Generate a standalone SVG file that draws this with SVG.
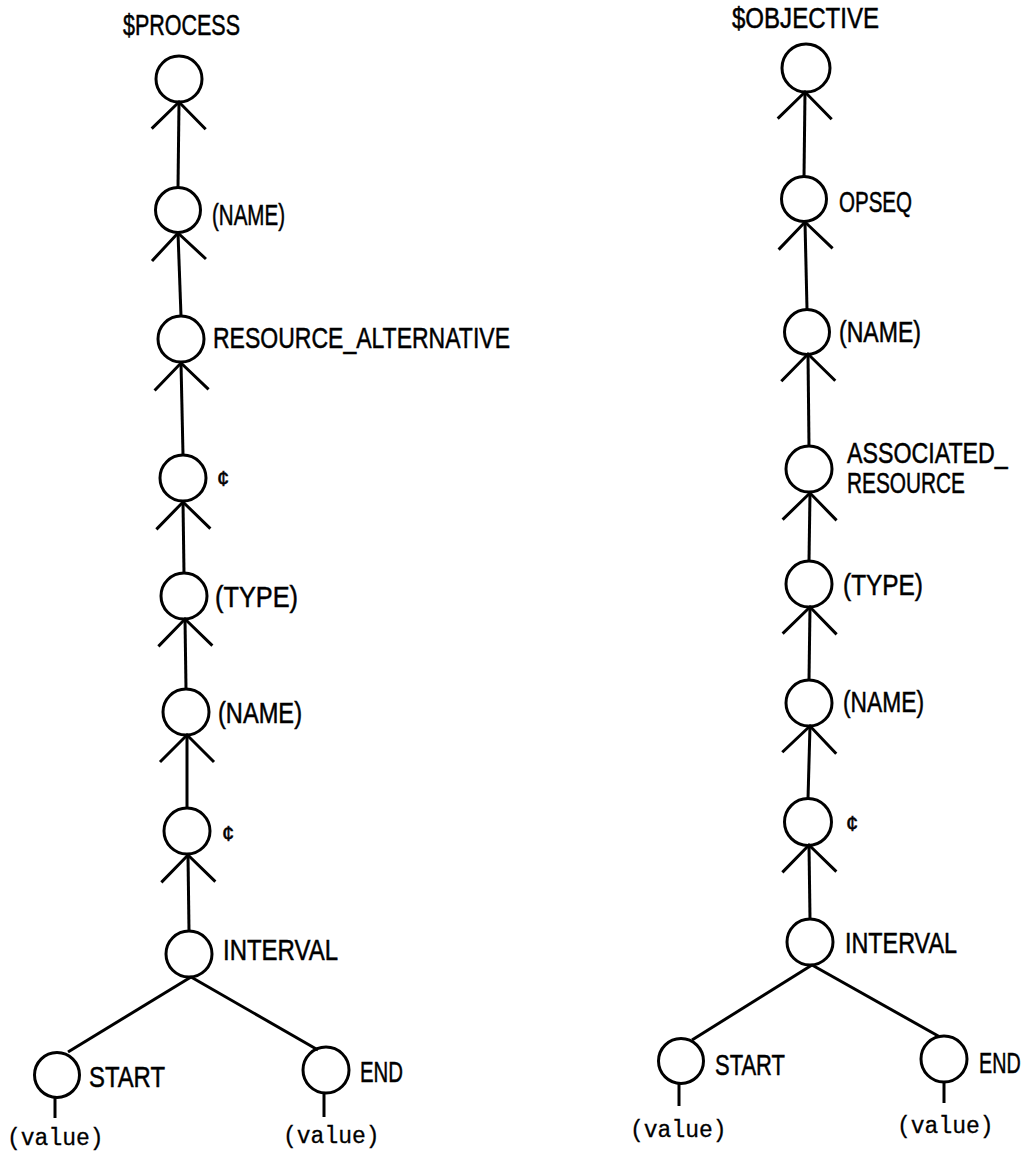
<svg xmlns="http://www.w3.org/2000/svg" width="1028" height="1154" viewBox="0 0 1028 1154">
<style>
.n{fill:none;stroke:#000;stroke-width:3}
.c line{stroke:#000;stroke-width:3;fill:none}
.a{marker-end:url(#v)}
.t{font-family:"Liberation Sans",Arial,sans-serif;font-size:29px;fill:#000;stroke:#000;stroke-width:0.5}
.s{font-family:"Liberation Sans",Arial,sans-serif;font-size:22px;fill:#000;stroke:#000;stroke-width:0.5}
.v{font-family:"Liberation Mono","Courier New",monospace;font-size:23px;fill:#000;stroke:#000;stroke-width:0.3}
</style>
<defs>
<marker id="v" markerUnits="userSpaceOnUse" viewBox="-30 -30 32 60" refX="0" refY="0" markerWidth="32" markerHeight="60" orient="auto" overflow="visible">
<path d="M-27,-27 L0,0 L-27,27" fill="none" stroke="#000" stroke-width="3"/>
</marker>
</defs>
<rect width="1028" height="1154" fill="#fff"/>
<g id="connectors" class="c">
<line class="a" x1="178" y1="188" x2="179" y2="102"/>
<line class="a" x1="181" y1="316" x2="178" y2="233"/>
<line class="a" x1="183" y1="455" x2="181" y2="363"/>
<line class="a" x1="184" y1="573" x2="183" y2="502"/>
<line class="a" x1="186" y1="689" x2="185" y2="619"/>
<line class="a" x1="187" y1="808" x2="187" y2="735"/>
<line class="a" x1="189" y1="931" x2="188" y2="855"/>
<line x1="191" y1="977" x2="68" y2="1052"/>
<line x1="191" y1="977" x2="318" y2="1050"/>
<line x1="55" y1="1097" x2="55" y2="1118"/>
<line x1="324" y1="1093" x2="324" y2="1117"/>
<line class="a" x1="804" y1="177" x2="805" y2="92"/>
<line class="a" x1="807" y1="309" x2="805" y2="222"/>
<line class="a" x1="809" y1="447" x2="808" y2="354"/>
<line class="a" x1="809" y1="561" x2="810" y2="493"/>
<line class="a" x1="809" y1="680" x2="810" y2="607"/>
<line class="a" x1="808" y1="799" x2="810" y2="726"/>
<line class="a" x1="810" y1="919" x2="809" y2="845"/>
<line x1="812" y1="965" x2="692" y2="1040"/>
<line x1="812" y1="965" x2="940" y2="1037"/>
<line x1="679" y1="1084" x2="679" y2="1106"/>
<line x1="944" y1="1082" x2="944" y2="1103"/>
</g>
<g id="process-root"><text class="t" x="123" y="35" textLength="117" lengthAdjust="spacingAndGlyphs">$PROCESS</text><circle class="n" cx="179" cy="79" r="23"/></g>
<g id="p-name1"><circle class="n" cx="178" cy="210" r="22.5"/><text class="t" x="212" y="225" textLength="73" lengthAdjust="spacingAndGlyphs">(NAME)</text></g>
<g id="p-resalt"><circle class="n" cx="181" cy="339" r="23"/><text class="t" x="213" y="348" textLength="297" lengthAdjust="spacingAndGlyphs">RESOURCE_ALTERNATIVE</text></g>
<g id="p-cent1"><circle class="n" cx="183" cy="478" r="23"/><text class="s" x="217" y="486">¢</text></g>
<g id="p-type"><circle class="n" cx="184" cy="596" r="23"/><text class="t" x="215" y="607" textLength="83" lengthAdjust="spacingAndGlyphs">(TYPE)</text></g>
<g id="p-name2"><circle class="n" cx="186" cy="712" r="23"/><text class="t" x="218" y="723" textLength="84" lengthAdjust="spacingAndGlyphs">(NAME)</text></g>
<g id="p-cent2"><circle class="n" cx="187" cy="831" r="23"/><text class="s" x="222" y="841">¢</text></g>
<g id="p-interval"><circle class="n" cx="189" cy="954" r="23"/><text class="t" x="223" y="960" textLength="115" lengthAdjust="spacingAndGlyphs">INTERVAL</text></g>
<g id="p-start"><circle class="n" cx="57" cy="1075" r="22.5"/><text class="t" x="89" y="1087" textLength="76" lengthAdjust="spacingAndGlyphs">START</text><text class="v" x="7" y="1145">(value)</text></g>
<g id="p-end"><circle class="n" cx="326" cy="1070" r="23"/><text class="t" x="360" y="1082" textLength="43" lengthAdjust="spacingAndGlyphs">END</text><text class="v" x="283" y="1143">(value)</text></g>
<g id="objective-root"><text class="t" x="732" y="28" textLength="147" lengthAdjust="spacingAndGlyphs">$OBJECTIVE</text><circle class="n" cx="806" cy="68" r="24"/></g>
<g id="o-opseq"><circle class="n" cx="804" cy="199" r="22.5"/><text class="t" x="839" y="212" textLength="73" lengthAdjust="spacingAndGlyphs">OPSEQ</text></g>
<g id="o-name1"><circle class="n" cx="807" cy="332" r="22.5"/><text class="t" x="839" y="342" textLength="82" lengthAdjust="spacingAndGlyphs">(NAME)</text></g>
<g id="o-assoc"><circle class="n" cx="809" cy="469" r="23"/><text class="t" transform="translate(847,463) scale(0.8,1)" x="0" y="0">ASSOCIATED_</text><text class="t" x="847" y="493" textLength="118" lengthAdjust="spacingAndGlyphs">RESOURCE</text></g>
<g id="o-type"><circle class="n" cx="809" cy="584" r="23"/><text class="t" x="843" y="595" textLength="80" lengthAdjust="spacingAndGlyphs">(TYPE)</text></g>
<g id="o-name2"><circle class="n" cx="809" cy="703" r="23"/><text class="t" x="843" y="712" textLength="81" lengthAdjust="spacingAndGlyphs">(NAME)</text></g>
<g id="o-cent"><circle class="n" cx="808" cy="822" r="23.5"/><text class="s" x="846" y="831">¢</text></g>
<g id="o-interval"><circle class="n" cx="810" cy="942" r="23"/><text class="t" x="845" y="953" textLength="112" lengthAdjust="spacingAndGlyphs">INTERVAL</text></g>
<g id="o-start"><circle class="n" cx="681" cy="1061" r="22.5"/><text class="t" x="715" y="1075" textLength="70" lengthAdjust="spacingAndGlyphs">START</text><text class="v" x="630" y="1137">(value)</text></g>
<g id="o-end"><circle class="n" cx="944" cy="1059" r="23"/><text class="t" transform="translate(979,1073) scale(0.68,1)" x="0" y="0">END</text><text class="v" x="897" y="1133">(value)</text></g>
</svg>
